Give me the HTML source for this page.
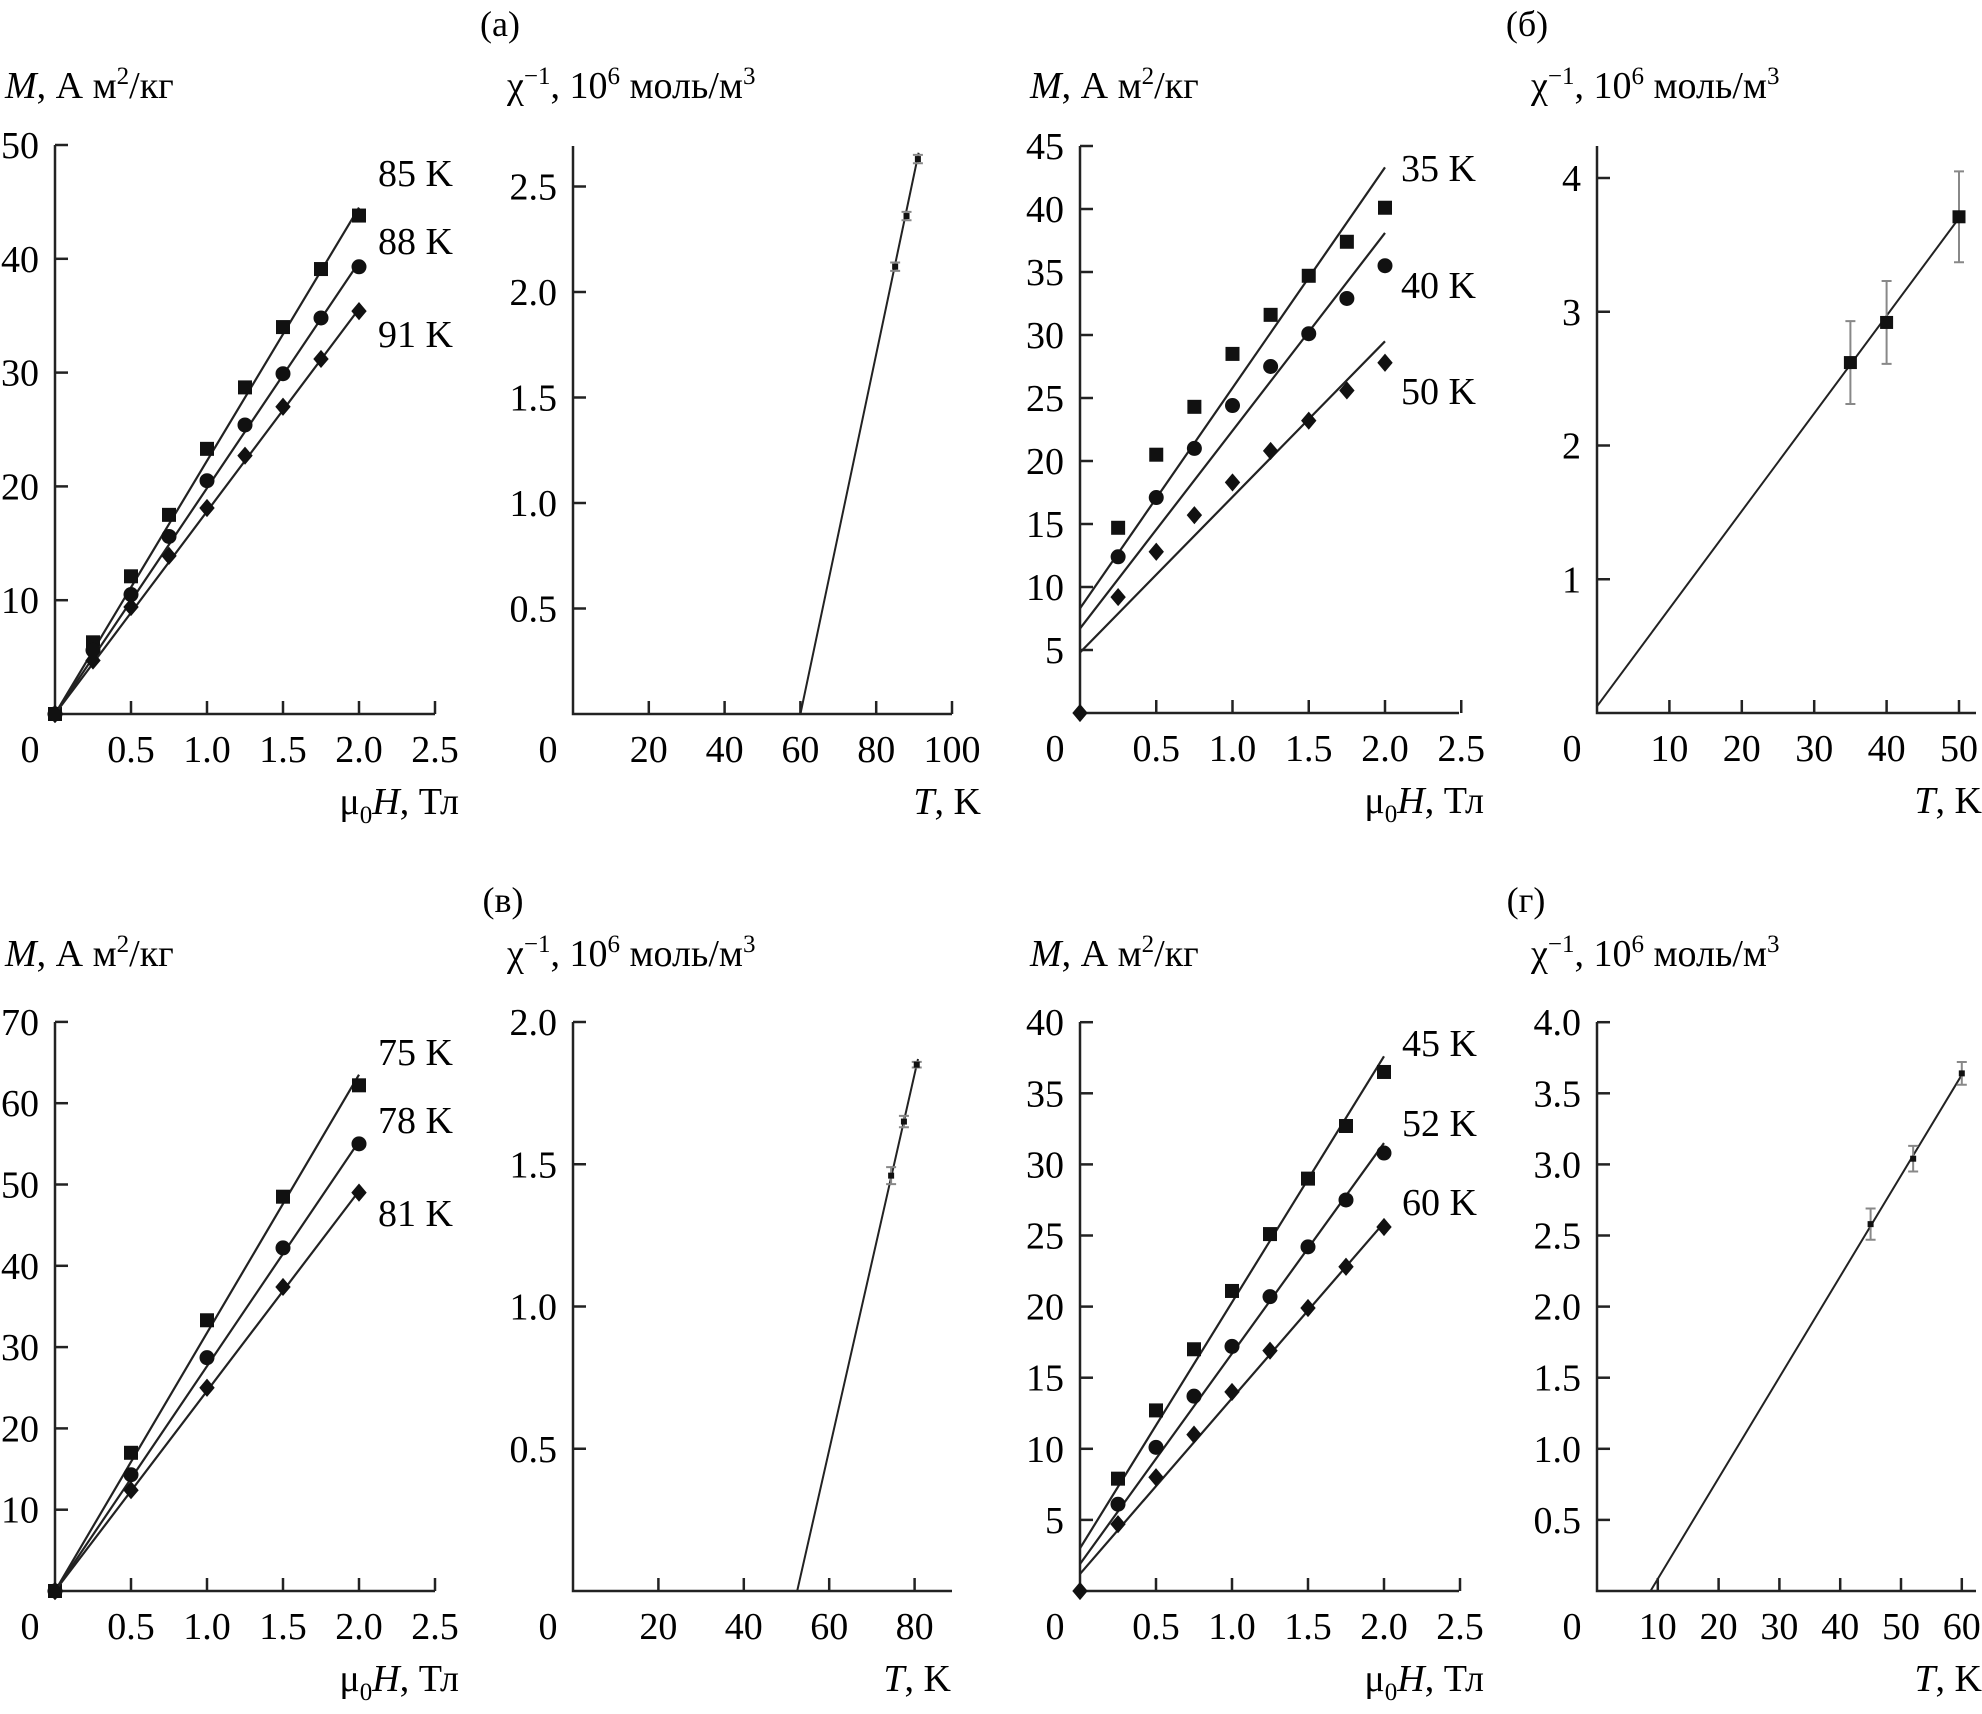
<!DOCTYPE html>
<html><head><meta charset="utf-8"><style>
html,body{margin:0;padding:0;background:#fff;}
svg{display:block;}
svg text{font-family:'Liberation Serif','DejaVu Serif',serif;}
</style></head><body>
<svg id="fig" xmlns="http://www.w3.org/2000/svg" width="1982" height="1714" viewBox="0 0 1982 1714" font-family="'Liberation Serif', 'DejaVu Serif', serif"></svg>
<script>
// ---- data ----
const fieldsFull = [0, 0.25, 0.5, 0.75, 1.0, 1.25, 1.5, 1.75, 2.0];
const fieldsHalf = [0, 0.5, 1.0, 1.5, 2.0];
const fieldsB = [0.25, 0.5, 0.75, 1.0, 1.25, 1.5, 1.75, 2.0];
// panel a
const aM85 = [0, 6.3, 12.1, 17.5, 23.3, 28.7, 34.0, 39.1, 43.8];
const aM88 = [0, 5.6, 10.5, 15.6, 20.5, 25.4, 29.9, 34.8, 39.3];
const aM91 = [0, 4.7, 9.4, 13.9, 18.1, 22.7, 27.0, 31.2, 35.4];
const aFitStart = [0, 0, 0];
const aFitEnd = [44.5, 39.7, 35.6];
const aLabels = ["85 K", "88 K", "91 K"];
const aT = [85, 88, 91];
const aChi = [2.12, 2.36, 2.63];
const aErr = [0.02, 0.02, 0.02];
const aChiFitT = [60, 91.2];
const aChiFitV = [0, 2.66];
// panel б
const bM35 = [14.7, 20.5, 24.3, 28.5, 31.6, 34.7, 37.4, 40.1];
const bM40 = [12.4, 17.1, 21.0, 24.4, 27.5, 30.1, 32.9, 35.5];
const bM50 = [9.2, 12.8, 15.7, 18.3, 20.8, 23.2, 25.6, 27.8];
const bFitStart = [8.3, 6.7, 4.8];
const bFitEnd = [43.3, 38.1, 29.5];
const bLabels = ["35 K", "40 K", "50 K"];
const bT = [35, 40, 50];
const bChi = [2.62, 2.92, 3.71];
const bErr = [0.31, 0.31, 0.34];
const bChiFitT = [0, 50];
const bChiFitV = [0.05, 3.7];
// panel в
const vM75 = [0, 17.0, 33.3, 48.5, 62.2];
const vM78 = [0, 14.3, 28.7, 42.2, 55.0];
const vM81 = [0, 12.4, 25.0, 37.4, 49.0];
const vFitStart = [0, 0, 0];
const vFitEnd = [63.5, 55.3, 49.2];
const vLabels = ["75 K", "78 K", "81 K"];
const vT = [74.5, 77.5, 80.5];
const vChi = [1.46, 1.65, 1.85];
const vErr = [0.03, 0.02, 0.01];
const vChiFitT = [52.5, 80.8];
const vChiFitV = [0, 1.87];
// panel г
const gM45 = [7.9, 12.7, 17.0, 21.1, 25.1, 29.0, 32.7, 36.5];
const gM52 = [6.1, 10.1, 13.7, 17.2, 20.7, 24.2, 27.5, 30.8];
const gM60 = [4.7, 8.0, 11.0, 14.0, 16.9, 19.9, 22.8, 25.6];
const gFitStart = [3.0, 1.9, 1.2];
const gFitEnd = [37.6, 31.5, 25.9];
const gLabels = ["45 K", "52 K", "60 K"];
const gT = [45, 52, 60];
const gChi = [2.58, 3.04, 3.64];
const gErr = [0.11, 0.09, 0.08];
const gChiFitT = [8.8, 60];
const gChiFitV = [0, 3.63];
// ticks
const mXTicks = [0.5, 1.0, 1.5, 2.0, 2.5];
const mXTickLabels = ["0.5", "1.0", "1.5", "2.0", "2.5"];
const aMYTicks = [10, 20, 30, 40, 50];
const bMYTicks = [5, 10, 15, 20, 25, 30, 35, 40, 45];
const vMYTicks = [10, 20, 30, 40, 50, 60, 70];
const gMYTicks = [5, 10, 15, 20, 25, 30, 35, 40];
const aCXTicks = [20, 40, 60, 80, 100];
const aCYTicks = [0.5, 1.0, 1.5, 2.0, 2.5];
const aCYLabels = ["0.5", "1.0", "1.5", "2.0", "2.5"];
const bCXTicks = [10, 20, 30, 40, 50];
const bCYTicks = [1, 2, 3, 4];
const vCXTicks = [20, 40, 60, 80];
const vCYTicks = [0.5, 1.0, 1.5, 2.0];
const vCYLabels = ["0.5", "1.0", "1.5", "2.0"];
const gCXTicks = [10, 20, 30, 40, 50, 60];
const gCYTicks = [0.5, 1.0, 1.5, 2.0, 2.5, 3.0, 3.5, 4.0];
const gCYLabels = ["0.5", "1.0", "1.5", "2.0", "2.5", "3.0", "3.5", "4.0"];

const NS = "http://www.w3.org/2000/svg";
const svg = document.getElementById("fig");
const FONT = "Liberation Serif, DejaVu Serif, serif";
function el(parent, tag, attrs, text) {
  const e = document.createElementNS(NS, tag);
  for (const k in attrs) e.setAttribute(k, attrs[k]);
  if (tag === "text") e.setAttribute("font-family", FONT);
  if (text !== undefined) e.textContent = text;
  parent.appendChild(e);
  return e;
}
const FS = 38;

function makeAxes(g, c, xTicks, xLabels, yTicks, yLabels) {
  const X = v => c.ox + v * c.px;
  const Y = v => c.oy - v * c.py;
  const ax = el(g, "path", {d: `M${c.ox} ${c.top}V${c.oy}H${c.right}`, fill: "none", stroke: "#222", "stroke-width": 2.5});
  
  
  xTicks.forEach((t, i) => {
    const tk = el(g, "line", {x1: X(t), x2: X(t), y1: c.oy, y2: c.oy - 13, stroke: "#222", "stroke-width": 2.5});
    
    
    const lb = el(g, "text", {x: X(t), y: c.oy + 48, "text-anchor": "middle", "font-size": FS}, xLabels[i]);
    
    
  });
  yTicks.forEach((t, i) => {
    const tk = el(g, "line", {x1: c.ox, x2: c.ox + 13, y1: Y(t), y2: Y(t), stroke: "#222", "stroke-width": 2.5});
    
    
    const lb = el(g, "text", {x: c.ox - 16, y: Y(t) + 13, "text-anchor": "end", "font-size": FS}, yLabels[i]);
    
    
  });
  const z = el(g, "text", {x: c.ox - 25, y: c.oy + 48, "text-anchor": "middle", "font-size": FS}, "0");
  
  
  return {X, Y};
}

function marker(g, type, x, y, s) {
  let m;
  if (type === "sq") m = el(g, "rect", {x: x - s / 2, y: y - s / 2, width: s, height: s, fill: "#111"});
  else if (type === "ci") m = el(g, "circle", {cx: x, cy: y, r: s / 2 + 0.5, fill: "#111"});
  else m = el(g, "path", {d: `M${x} ${y - s * 0.65}L${x + s * 0.55} ${y}L${x} ${y + s * 0.65}L${x - s * 0.55} ${y}Z`, fill: "#111"});
  return m;
}

function mTitle(g, x, y) {
  const t = el(g, "text", {x: x, y: y, "font-size": FS});
  
  
  el(t, "tspan", {"font-style": "italic"}, "M");
  el(t, "tspan", {}, ", А м");
  el(t, "tspan", {dy: -14, "font-size": 25}, "2");
  el(t, "tspan", {dy: 14}, "/кг");
}
function chiTitle(g, x, y) {
  const t = el(g, "text", {x: x, y: y, "font-size": FS});
  
  
  el(t, "tspan", {}, "χ");
  el(t, "tspan", {dy: -14, "font-size": 25}, "−1");
  el(t, "tspan", {dy: 14}, ", 10");
  el(t, "tspan", {dy: -14, "font-size": 25}, "6");
  el(t, "tspan", {dy: 14}, " моль/м");
  el(t, "tspan", {dy: -14, "font-size": 25}, "3");
}
function hTitle(g, xr, y) {
  const t = el(g, "text", {x: xr, y: y, "font-size": FS, "text-anchor": "end"});
  
  
  el(t, "tspan", {}, "μ");
  el(t, "tspan", {dy: 9, "font-size": 25}, "0");
  el(t, "tspan", {dy: -9, "font-style": "italic"}, "H");
  el(t, "tspan", {}, ", Тл");
}
function tTitle(g, xr, y) {
  const t = el(g, "text", {x: xr, y: y, "font-size": FS, "text-anchor": "end"});
  
  
  el(t, "tspan", {"font-style": "italic"}, "T");
  el(t, "tspan", {}, ", K");
}

function mPanel(name, c, yTicks, series, fields, fitS, fitE, labels, labelPos) {
  const g = el(svg, "g", {});
  
  
  const {X, Y} = makeAxes(g, c, mXTicks, mXTickLabels, yTicks, yTicks.map(String));
  const types = ["sq", "ci", "di"];
  series.forEach((s, i) => {
    const ln = el(g, "line", {x1: X(0), y1: Y(fitS[i]), x2: X(2.0), y2: Y(fitE[i]), stroke: "#222", "stroke-width": 2.2});
    
    
    s.forEach((v, j) => {
      const m = marker(g, types[i], X(fields[j]), Y(v), 14);
      
      
    });
    const lb = el(g, "text", {x: labelPos.x, y: labelPos.y[i], "font-size": FS}, labels[i]);
    
    
  });
  if (c.origin) {
    const m = marker(g, "di", X(0), Y(0), 14);
    
    
  }
  mTitle(g, c.ox - 50, c.titleY);
  hTitle(g, c.ox + 404, c.oy + 100);
}

function chiPanel(name, c, xTicks, yTicks, yLabels, T, V, E, fitT, fitV, ms) {
  const g = el(svg, "g", {});
  
  
  const {X, Y} = makeAxes(g, c, xTicks, xTicks.map(String), yTicks, yLabels);
  const ln = el(g, "line", {x1: X(fitT[0]), y1: Y(fitV[0]), x2: X(fitT[1]), y2: Y(fitV[1]), stroke: "#222", "stroke-width": 2});
  
  
  T.forEach((t, i) => {
    const x = X(t), y1 = Y(V[i] + E[i]), y2 = Y(V[i] - E[i]);
    const eb = el(g, "path", {d: `M${x} ${y1}V${y2}M${x - 5} ${y1}H${x + 5}M${x - 5} ${y2}H${x + 5}`, stroke: "#888", "stroke-width": 2, fill: "none"});
    
    
    const m = marker(g, "sq", x, Y(V[i]), ms);
    
    
  });
  chiTitle(g, c.ox - 66, c.titleY);
  tTitle(g, c.tRight, c.oy + 100);
}

function panelLabel(text, x, y) {
  const t = el(svg, "text", {x: x, y: y, "font-size": 36, "text-anchor": "middle"}, text);
  
  
}

// top row
mPanel("panel-a-magnetization", {ox: 55, oy: 714, px: 152, py: 11.38, top: 145, right: 435, titleY: 98, origin: true},
  aMYTicks, [aM85, aM88, aM91], fieldsFull, aFitStart, aFitEnd, aLabels, {x: 378, y: [186, 254, 347]});
chiPanel("panel-a-susceptibility", {ox: 573, oy: 714, px: 3.79, py: 211, top: 146, right: 952, titleY: 98, tRight: 981},
  aCXTicks, aCYTicks, aCYLabels, aT, aChi, aErr, aChiFitT, aChiFitV, 6);
mPanel("panel-b-magnetization", {ox: 1080, oy: 713, px: 152.5, py: 12.6, top: 146, right: 1459, titleY: 98, origin: true},
  bMYTicks, [bM35, bM40, bM50], fieldsB, bFitStart, bFitEnd, bLabels, {x: 1401, y: [181, 298, 404]});
chiPanel("panel-b-susceptibility", {ox: 1597, oy: 713, px: 7.24, py: 133.75, top: 146, right: 1976, titleY: 98, tRight: 1982},
  bCXTicks, bCYTicks, bCYTicks.map(String), bT, bChi, bErr, bChiFitT, bChiFitV, 13);
// bottom row
mPanel("panel-v-magnetization", {ox: 55, oy: 1591, px: 152, py: 8.13, top: 1022, right: 435, titleY: 966, origin: true},
  vMYTicks, [vM75, vM78, vM81], fieldsHalf, vFitStart, vFitEnd, vLabels, {x: 378, y: [1065, 1133, 1226]});
chiPanel("panel-v-susceptibility", {ox: 573, oy: 1591, px: 4.27, py: 284.5, top: 1022, right: 952, titleY: 966, tRight: 951},
  vCXTicks, vCYTicks, vCYLabels, vT, vChi, vErr, vChiFitT, vChiFitV, 6);
mPanel("panel-g-magnetization", {ox: 1080, oy: 1591, px: 152, py: 14.22, top: 1022, right: 1459, titleY: 966, origin: true},
  gMYTicks, [gM45, gM52, gM60], fieldsB, gFitStart, gFitEnd, gLabels, {x: 1402, y: [1056, 1136, 1215]});
chiPanel("panel-g-susceptibility", {ox: 1597, oy: 1591, px: 6.08, py: 142.2, top: 1022, right: 1976, titleY: 966, tRight: 1982},
  gCXTicks, gCYTicks, gCYLabels, gT, gChi, gErr, gChiFitT, gChiFitV, 6);

panelLabel("(а)", 500, 36);
panelLabel("(б)", 1527, 36);
panelLabel("(в)", 503, 912);
panelLabel("(г)", 1526, 912);
</script>
</body></html>
